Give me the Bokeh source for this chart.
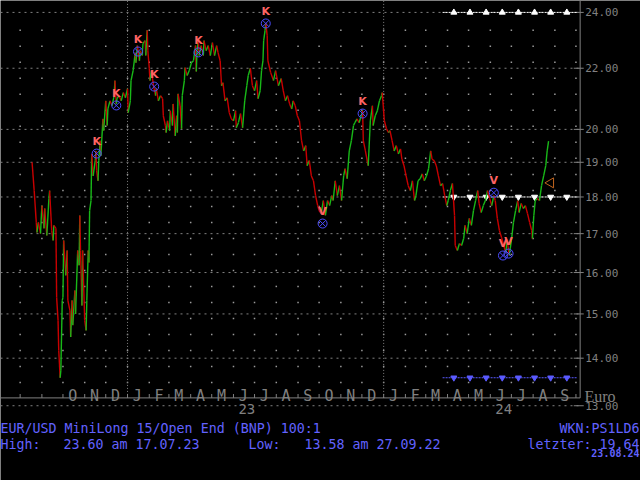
import numpy as np
import pandas as pd
from bokeh.plotting import figure
from bokeh.models import Range1d, Label
from bokeh.core.properties import value
from bokeh.embed import file_html
from bokeh.resources import INLINE

# ---------------- data ----------------
DATES = [
    "2022-08-18", "2022-08-21", "2022-08-24", "2022-08-25", "2022-08-27", "2022-08-30", "2022-09-01", "2022-09-04",
    "2022-09-05", "2022-09-08", "2022-09-11", "2022-09-12", "2022-09-15", "2022-09-17", "2022-09-18", "2022-09-21",
    "2022-09-22", "2022-09-24", "2022-09-25", "2022-09-27", "2022-09-28", "2022-09-30", "2022-10-01", "2022-10-02",
    "2022-10-05", "2022-10-07", "2022-10-08", "2022-10-11", "2022-10-12", "2022-10-14", "2022-10-15", "2022-10-18",
    "2022-10-19", "2022-10-22", "2022-10-24", "2022-10-25", "2022-10-26", "2022-10-28", "2022-10-29", "2022-11-01",
    "2022-11-03", "2022-11-04", "2022-11-06", "2022-11-07", "2022-11-08", "2022-11-10", "2022-11-11", "2022-11-13",
    "2022-11-16", "2022-11-17", "2022-11-18", "2022-11-20", "2022-11-21", "2022-11-23", "2022-11-24", "2022-11-27",
    "2022-11-28", "2022-12-01", "2022-12-03", "2022-12-04", "2022-12-07", "2022-12-10", "2022-12-13", "2022-12-14",
    "2022-12-16", "2022-12-17", "2022-12-20", "2022-12-23", "2022-12-26", "2022-12-29", "2023-01-01", "2023-01-02",
    "2023-01-05", "2023-01-06", "2023-01-09", "2023-01-12", "2023-01-13", "2023-01-15", "2023-01-18", "2023-01-19",
    "2023-01-22", "2023-01-23", "2023-01-26", "2023-01-27", "2023-01-29", "2023-01-30", "2023-02-01", "2023-02-02",
    "2023-02-04", "2023-02-07", "2023-02-10", "2023-02-11", "2023-02-14", "2023-02-17", "2023-02-20", "2023-02-21",
    "2023-02-24", "2023-02-25", "2023-02-27", "2023-03-02", "2023-03-03", "2023-03-06", "2023-03-07", "2023-03-10",
    "2023-03-12", "2023-03-13", "2023-03-14", "2023-03-17", "2023-03-19", "2023-03-20", "2023-03-23", "2023-03-24",
    "2023-03-27", "2023-03-30", "2023-04-02", "2023-04-05", "2023-04-08", "2023-04-09", "2023-04-10", "2023-04-12",
    "2023-04-13", "2023-04-16", "2023-04-19", "2023-04-20", "2023-04-23", "2023-04-26", "2023-04-29", "2023-05-02",
    "2023-05-05", "2023-05-08", "2023-05-10", "2023-05-13", "2023-05-15", "2023-05-17", "2023-05-20", "2023-05-23",
    "2023-05-26", "2023-05-29", "2023-06-01", "2023-06-04", "2023-06-05", "2023-06-08", "2023-06-11", "2023-06-14",
    "2023-06-17", "2023-06-20", "2023-06-22", "2023-06-25", "2023-06-28", "2023-07-01", "2023-07-04", "2023-07-06",
    "2023-07-09", "2023-07-11", "2023-07-13", "2023-07-14", "2023-07-16", "2023-07-17", "2023-07-19", "2023-07-20",
    "2023-07-24", "2023-07-28", "2023-07-31", "2023-08-04", "2023-08-08", "2023-08-11", "2023-08-14", "2023-08-17",
    "2023-08-20", "2023-08-23", "2023-08-25", "2023-08-28", "2023-08-31", "2023-09-03", "2023-09-06", "2023-09-09",
    "2023-09-12", "2023-09-14", "2023-09-17", "2023-09-20", "2023-09-23", "2023-09-26", "2023-09-29", "2023-10-01",
    "2023-10-04", "2023-10-07", "2023-10-10", "2023-10-13", "2023-10-16", "2023-10-19", "2023-10-21", "2023-10-24",
    "2023-10-27", "2023-10-30", "2023-11-02", "2023-11-05", "2023-11-07", "2023-11-10", "2023-11-13", "2023-11-16",
    "2023-11-19", "2023-11-21", "2023-11-24", "2023-11-27", "2023-11-30", "2023-12-02", "2023-12-03", "2023-12-06",
    "2023-12-09", "2023-12-10", "2023-12-13", "2023-12-16", "2023-12-17", "2023-12-20", "2023-12-23", "2023-12-26",
    "2023-12-29", "2023-12-30", "2024-01-02", "2024-01-05", "2024-01-08", "2024-01-10", "2024-01-13", "2024-01-16",
    "2024-01-19", "2024-01-22", "2024-01-25", "2024-01-27", "2024-01-30", "2024-02-02", "2024-02-05", "2024-02-08",
    "2024-02-11", "2024-02-14", "2024-02-16", "2024-02-19", "2024-02-22", "2024-02-25", "2024-02-28", "2024-03-02",
    "2024-03-05", "2024-03-08", "2024-03-10", "2024-03-13", "2024-03-16", "2024-03-19", "2024-03-22", "2024-03-25",
    "2024-03-28", "2024-03-31", "2024-04-02", "2024-04-05", "2024-04-08", "2024-04-11", "2024-04-12", "2024-04-15",
    "2024-04-18", "2024-04-21", "2024-04-24", "2024-04-26", "2024-04-29", "2024-05-02", "2024-05-05", "2024-05-08",
    "2024-05-11", "2024-05-14", "2024-05-16", "2024-05-19", "2024-05-22", "2024-05-25", "2024-05-28", "2024-05-31",
    "2024-06-03", "2024-06-06", "2024-06-08", "2024-06-11", "2024-06-14", "2024-06-17", "2024-06-20", "2024-06-23",
    "2024-06-25", "2024-06-28", "2024-07-01", "2024-07-04", "2024-07-07", "2024-07-10", "2024-07-12", "2024-07-15",
    "2024-07-18", "2024-07-21", "2024-07-24", "2024-07-27", "2024-07-30", "2024-07-31", "2024-08-02", "2024-08-04",
    "2024-08-07", "2024-08-10", "2024-08-13", "2024-08-16", "2024-08-19", "2024-08-21", "2024-08-23",
]
PRICES = [
    19.00, 18.18, 17.30, 17.03, 17.30, 17.00, 17.76, 17.14,
    17.68, 16.95, 17.96, 18.18, 17.08, 16.82, 17.22, 17.14,
    15.39, 14.85, 14.17, 13.58, 13.74, 15.32, 15.39, 16.82,
    15.93, 16.56, 15.32, 15.08, 14.47, 15.32, 14.74, 15.56,
    15.00, 16.56, 16.18, 17.49, 16.56, 15.20, 16.56, 14.85,
    14.62, 15.32, 16.56, 16.25, 17.62, 17.90, 19.25, 18.60,
    19.05, 19.34, 18.75, 18.46, 19.05, 19.65, 19.19, 20.33,
    19.96, 20.91, 20.12, 20.65, 20.91, 20.75, 21.08, 21.58,
    20.81, 20.98, 21.08, 20.91, 21.18, 21.01, 21.31, 20.53,
    20.91, 21.58, 21.92, 22.54, 22.19, 22.79, 22.26, 22.61,
    22.44, 22.86, 22.97, 22.44, 23.34, 22.61, 22.00, 21.58,
    21.92, 21.41, 21.08, 21.31, 20.91, 21.08, 20.98, 20.43,
    20.12, 19.90, 20.27, 19.96, 20.59, 20.12, 20.81, 19.80,
    20.43, 19.90, 21.14, 20.75, 20.02, 21.08, 21.58, 22.02,
    21.75, 21.92, 22.19, 22.26, 22.79, 21.89, 22.61, 22.97,
    22.44, 22.79, 22.44, 22.97, 22.61, 22.79, 22.44, 22.90,
    22.44, 22.79, 22.54, 22.26, 21.41, 21.51, 20.91, 21.01,
    20.53, 20.33, 20.27, 20.59, 20.05, 20.21, 20.50, 20.05,
    20.91, 21.41, 21.75, 22.00, 21.41, 21.24, 21.58, 20.98,
    21.24, 21.92, 22.26, 22.97, 23.34, 23.60, 23.16, 22.26,
    21.85, 21.58, 21.92, 21.41, 21.65, 21.24, 20.91, 21.08,
    20.81, 20.65, 20.91, 20.75, 20.43, 20.27, 19.65, 19.34,
    19.50, 18.90, 19.05, 18.60, 18.46, 18.04, 17.76, 17.62,
    17.54, 17.90, 17.49, 17.90, 17.76, 18.04, 17.90, 18.46,
    18.04, 18.32, 17.90, 18.60, 18.81, 18.52, 19.34, 19.65,
    20.12, 20.21, 20.33, 20.21, 20.43, 20.59, 19.65, 19.34,
    19.00, 18.90, 20.27, 20.75, 20.12, 20.43, 20.59, 20.91,
    21.08, 21.18, 20.27, 20.02, 19.90, 19.96, 19.65, 19.34,
    19.50, 19.25, 19.40, 19.09, 18.90, 18.60, 18.32, 18.18,
    18.46, 17.90, 18.04, 18.46, 18.52, 18.66, 18.46, 18.60,
    18.81, 19.34, 19.09, 19.05, 18.90, 18.60, 18.32, 18.38,
    18.04, 17.76, 17.90, 18.18, 18.38, 17.49, 16.69, 16.56,
    16.74, 16.69, 16.87, 17.22, 17.00, 17.41, 17.22, 17.62,
    17.90, 18.18, 17.82, 17.57, 17.76, 17.90, 18.18, 17.96,
    17.76, 18.04, 17.90, 17.41, 17.08, 16.90, 16.69, 16.51,
    16.82, 16.43, 16.82, 17.30, 17.62, 17.90, 17.57, 17.82,
    17.68, 17.76, 17.54, 17.30, 17.08, 16.87, 17.49, 17.90,
    17.96, 17.90, 18.32, 18.60, 18.90, 19.34, 19.64,
]

SIGNAL_DATES = ["2022-11-18", "2022-12-16", "2023-01-16", "2023-02-08", "2023-04-12", "2023-07-17",
                "2023-12-02", "2023-10-06", "2024-06-06", "2024-06-19", "2024-06-27"]
SIGNAL_PRICES = [19.26, 20.76, 22.58, 21.38, 22.55, 23.59, 20.50, 17.27, 18.12, 16.43, 16.48]
SIGNAL_TEXT = ["K", "K", "K", "K", "K", "K", "K", "V", "V", "V", "V"]

LEVELS = [24.0, 18.0, 13.58]
LEVEL_COLORS = ["#ffffff", "#ffffff", "#5a5aff"]
LEVEL_MARKERS = ["triangle", "inverted_triangle", "inverted_triangle"]
LEVEL_START = "2024-03-25"
LEVEL_END = "2024-10-03"
LEVEL_MARK_START = "2024-04-10"

LAST_MARK_DATE = "2024-08-26"
LAST_MARK_PRICE = 18.40

MONTH_LETTERS = list("ONDJFMAMJJASONDJFMAMJJAS")
MONTH_LABEL_FIRST = "2022-10-01"
YEAR_LABELS = ["23", "24"]
YEAR_LABEL_DATES = ["2023-06-20", "2024-06-20"]
YEAR_STARTS = ["2023-01-01", "2024-01-01"]
Y_TICKS = [13, 14, 15, 16, 17, 18, 19, 20, 22, 24]

TITLE_TEXT = "EUR/USD MiniLong 15/Open End (BNP) 100:1"
WKN_TEXT = "WKN:PS1LD6"
HIGH_PARTS = ["High:", "23.60 am 17.07.23"]
LOW_PARTS = ["Low:", "13.58 am 27.09.22"]
LAST_TEXT = "letzter: 19.64"
DATE_TEXT = "23.08.24"
UNIT_TEXT = "Euro"

# ---------------- layout / style ----------------
X_START, X_END = "2022-07-04", "2025-01-01"
AXIS_DATE = "2024-10-07"
TICK_DATE = "2024-10-05"
Y_BOTTOM, Y_TOP = 11.57, 24.45
BOX_FLOOR = 13.16
MONTH_TICK_TOP = 13.24

GRAY = "#808080"
DOT_GRAY = "#9a9a9a"
GREEN = "#18b818"
RED = "#c80000"
BLUE_TXT = "#6262ff"
BLUE_MARK = "#4c4cff"
SALMON = "#ff6464"
BROWN = "#c0641e"

d = pd.to_datetime(DATES)
pr = np.array(PRICES)
seg_colors = list(np.where(pr[1:] >= pr[:-1], GREEN, RED))

p = figure(width=640, height=480, output_backend="svg", toolbar_location=None, title=None,
           x_axis_type="datetime", y_axis_type="log",
           x_axis_location=None, y_axis_location=None,
           x_range=Range1d(pd.Timestamp(X_START), pd.Timestamp(X_END)),
           y_range=Range1d(Y_BOTTOM, Y_TOP),
           min_border=0,
           background_fill_color="black", border_fill_color="black", outline_line_color=None)
p.xgrid.visible = False
p.ygrid.visible = False

x0 = pd.Timestamp(X_START)
xa = pd.Timestamp(AXIS_DATE)
nt = len(Y_TICKS)

# horizontal price grid lines (dashed) up to the axis
p.segment(x0=[x0] * nt, y0=Y_TICKS, x1=[xa] * nt, y1=Y_TICKS, line_color=GRAY, line_dash="2 4", line_width=1)

# background dot grid at month boundaries
month_starts = pd.date_range("2022-08-01", "2024-10-01", freq="MS")
minor_rows = np.geomspace(23.34, 13.48, 23)
gx = [m for r in minor_rows for m in month_starts]
gy = [r for r in minor_rows for m in month_starts]
p.scatter(gx, gy, marker="square", size=1.5, fill_color=DOT_GRAY, line_color=None)

# box floor, month ticks, year separators, right axis line
p.segment(x0=[x0], y0=[BOX_FLOOR], x1=[xa], y1=[BOX_FLOOR], line_color=GRAY, line_width=1)
p.segment(x0=month_starts, y0=BOX_FLOOR, x1=month_starts, y1=MONTH_TICK_TOP, line_color=GRAY, line_width=1)
ys = pd.to_datetime(YEAR_STARTS)
p.segment(x0=ys, y0=BOX_FLOOR, x1=ys, y1=Y_TOP, line_color=GRAY, line_dash="1 2", line_width=1)
p.segment(x0=[xa], y0=[BOX_FLOOR], x1=[xa], y1=[Y_TOP], line_color=GRAY, line_width=1)

# price axis ticks and labels
p.scatter([pd.Timestamp(TICK_DATE)] * nt, Y_TICKS, marker="dash", size=10, line_color=GRAY, line_width=1)
p.text([xa] * nt, Y_TICKS, text=["%.2f" % t for t in Y_TICKS], x_offset=5, text_color=GRAY,
       text_font=value("DejaVu Sans Mono"), text_font_size="11px", text_align="left", text_baseline="middle")

# month letters and year labels
month_mid = pd.date_range(MONTH_LABEL_FIRST, periods=len(MONTH_LETTERS), freq="MS") + pd.Timedelta(days=14)
p.text(month_mid, [BOX_FLOOR] * len(MONTH_LETTERS), text=MONTH_LETTERS, text_color=GRAY,
       text_font=value("DejaVu Sans Mono"), text_font_size="15px", text_align="center",
       text_baseline="alphabetic", y_offset=-2)
p.text(pd.to_datetime(YEAR_LABEL_DATES), [13.0] * len(YEAR_LABELS), text=YEAR_LABELS, text_color=GRAY,
       text_font=value("DejaVu Sans Mono"), text_font_size="14px", text_align="center",
       text_baseline="middle", y_offset=3, background_fill_color="black")

# level lines
tri_x = pd.date_range(LEVEL_MARK_START, periods=8, freq="23D")
for lv, col, mk in zip(LEVELS, LEVEL_COLORS, LEVEL_MARKERS):
    p.segment(x0=pd.to_datetime([LEVEL_START]), y0=[lv], x1=pd.to_datetime([LEVEL_END]), y1=[lv],
              line_color=col, line_dash="2 1", line_width=1)
    p.scatter(tri_x, [lv] * len(tri_x), marker=mk, size=6, fill_color=col, line_color=col)

# price path
p.segment(x0=d[:-1], y0=pr[:-1], x1=d[1:], y1=pr[1:], line_color=seg_colors, line_width=1.4)

# signals
sd = pd.to_datetime(SIGNAL_DATES)
p.scatter(sd, SIGNAL_PRICES, marker="circle_x", size=9, line_color=BLUE_MARK, fill_color=None, line_width=1)
p.text(sd, SIGNAL_PRICES, text=SIGNAL_TEXT, text_color=SALMON, text_font=value("DejaVu Sans"),
       text_font_style="bold", text_font_size="11px", text_align="center", text_baseline="middle", y_offset=-12)

# last price pointer
p.scatter(pd.to_datetime([LAST_MARK_DATE]), [LAST_MARK_PRICE], marker="triangle", angle=np.pi / 2,
          size=10, line_color=BROWN, fill_color=None, line_width=1)


def lab(text, x, y, align="left", size="13.3px", color=BLUE_TXT, font="DejaVu Sans Mono", style="normal"):
    p.add_layout(Label(x=x, y=y, x_units="screen", y_units="screen", text=text, text_align=align,
                       text_baseline="alphabetic", text_font=font, text_font_size=size,
                       text_color=color, text_font_style=style))


lab(UNIT_TEXT, 584, 84, size="16px", color=GRAY, font="Liberation Serif")
lab(TITLE_TEXT, 0, 52)
lab(WKN_TEXT, 639, 52, align="right")
lab(HIGH_PARTS[0], 0, 36)
lab(HIGH_PARTS[1], 63, 36)
lab(LOW_PARTS[0], 248, 36)
lab(LOW_PARTS[1], 304, 36)
lab(LAST_TEXT, 639, 36, align="right")
lab(DATE_TEXT, 639, 28, align="right", size="10px", style="bold")

open("out.html", "w").write(file_html(p, INLINE))
